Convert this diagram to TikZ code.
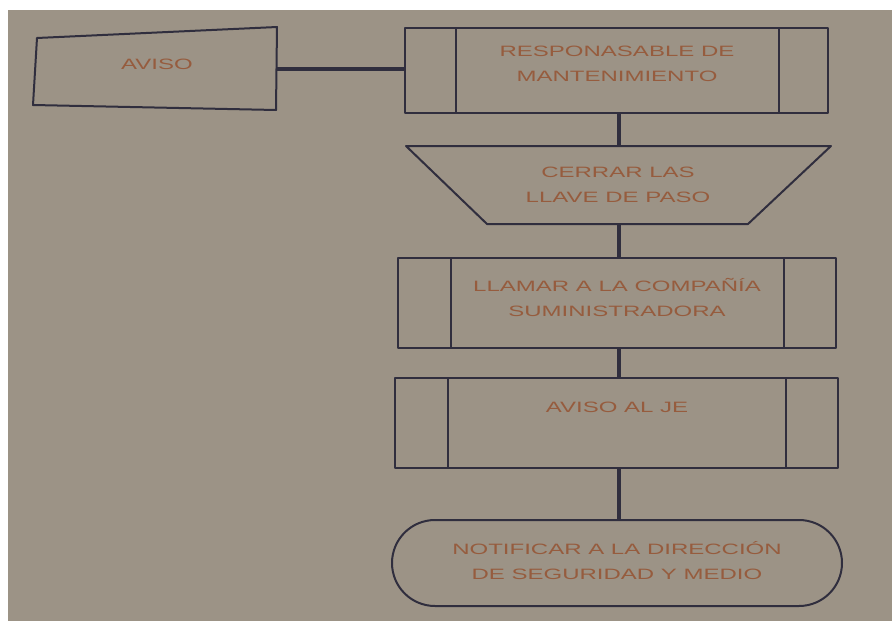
\documentclass[tikz,border=0pt]{standalone}
\usepackage{fontspec}
\newfontfamily\lblfam{Liberation Sans}
\definecolor{bgc}{RGB}{156,147,134}
\definecolor{txtc}{RGB}{150,92,62}
\definecolor{linec}{RGB}{48,46,62}
\tikzset{
  lbl/.style={font=\lblfam\fontsize{15}{25}\selectfont, text=txtc, align=center, xscale=1.6, transform shape, inner sep=0pt},
  shp/.style={draw=linec, line width=2pt, line join=round},
  boxn/.style={shp, rectangle, inner sep=0pt},
  conn/.style={draw=linec, line width=3.5pt}
}
\begin{document}
\begin{tikzpicture}[x=1pt,y=-1pt]
\useasboundingbox (0,0) rectangle (892,621);
\fill[white] (0,0) rectangle (892,621);
\fill[bgc] (8,10) rectangle (892,621);

% AVISO manual input
\coordinate (avTL) at (37,38);
\coordinate (avTR) at (277,27);
\coordinate (avBR) at (276,110);
\coordinate (avBL) at (33,105);
\draw[shp] (avTL) -- (avTR) -- (avBR) -- (avBL) -- cycle;
\coordinate (avR) at (276.5,69);
\node[lbl] (aviso) at (157,64) {AVISO};

% Responsable
\node[boxn, minimum width=423pt, minimum height=85pt] (resp) at (616.5,70.5) {};
\draw[shp] ([xshift=52pt]resp.north west) -- ([xshift=52pt]resp.south west);
\draw[shp] ([xshift=-50pt]resp.north east) -- ([xshift=-50pt]resp.south east);
\node[lbl] (resptxt) at (617,64) {RESPONASABLE DE\\MANTENIMIENTO};

% Trapezoid
\coordinate (trTL) at (406,146);
\coordinate (trTR) at (831,146);
\coordinate (trBR) at (748,224);
\coordinate (trBL) at (487,224);
\draw[shp] (trTL) -- (trTR) -- (trBR) -- (trBL) -- cycle;
\coordinate (trT) at (619,146);
\coordinate (trB) at (619,224);
\node[lbl] (cerrar) at (618,184.5) {CERRAR LAS\\LLAVE DE PASO};

% Llamar
\node[boxn, minimum width=438pt, minimum height=90pt] (llamar) at (617,303) {};
\draw[shp] ([xshift=54pt]llamar.north west) -- ([xshift=54pt]llamar.south west);
\draw[shp] ([xshift=-53pt]llamar.north east) -- ([xshift=-53pt]llamar.south east);
\node[lbl] (llamartxt) at (617,297.5) {LLAMAR A LA COMPAÑÍA\\SUMINISTRADORA};

% Aviso al JE
\node[boxn, minimum width=443pt, minimum height=90pt] (jefe) at (616.5,423) {};
\draw[shp] ([xshift=54pt]jefe.north west) -- ([xshift=54pt]jefe.south west);
\draw[shp] ([xshift=-53pt]jefe.north east) -- ([xshift=-53pt]jefe.south east);
\node[lbl] (jefetxt) at (617,407) {AVISO AL JE};

% Terminal
\node[boxn, minimum width=450pt, minimum height=86pt, rounded corners=43pt] (term) at (617,563) {};
\node[lbl] (termtxt) at (617,560.5) {NOTIFICAR A LA DIRECCIÓN\\DE SEGURIDAD Y MEDIO};

% connectors
\draw[conn] (avR) -- (resp.west |- avR);
\draw[conn] (resp.south -| trT) -- (trT);
\draw[conn] (trB) -- (llamar.north -| trB);
\draw[conn] (llamar.south -| trB) -- (jefe.north -| trB);
\draw[conn] (jefe.south -| trB) -- (term.north -| trB);
\end{tikzpicture}
\end{document}
